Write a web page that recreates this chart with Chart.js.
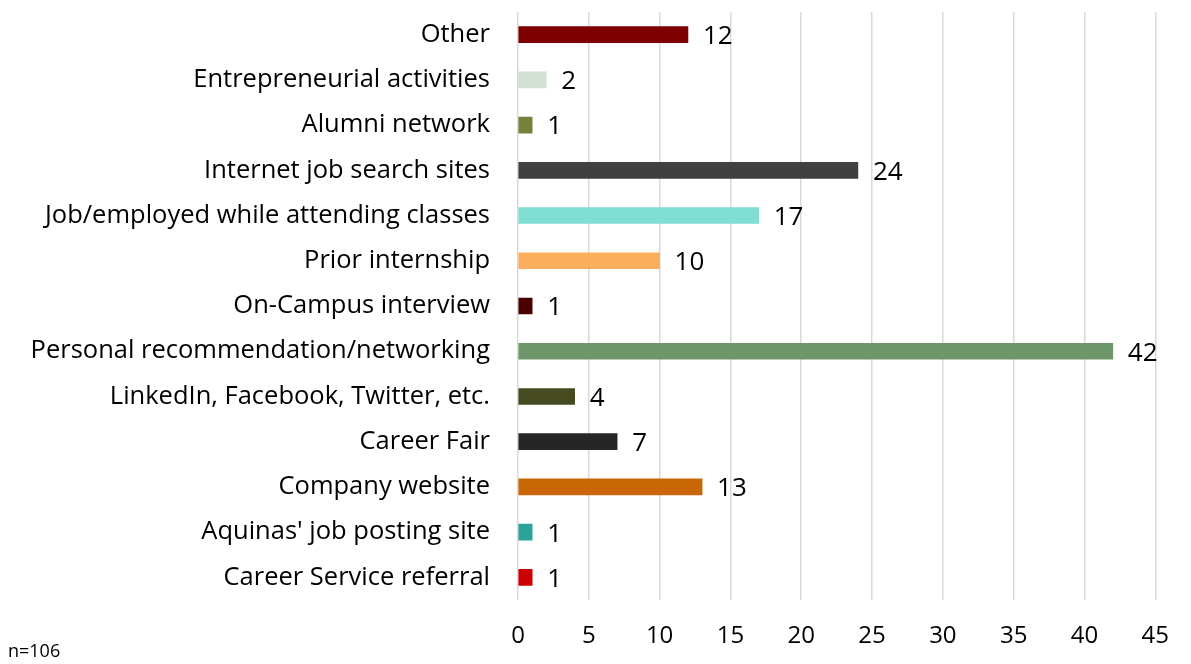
<!DOCTYPE html>
<html>
<head>
<meta charset="utf-8">
<script src="https://cdn.jsdelivr.net/npm/chart.js@4/dist/chart.umd.min.js"></script>
<style>
  body { margin: 0; background: #fff; }
  #wrap { position: relative; width: 1191px; height: 664px; }
  #note { position: absolute; left: 8px; top: 638px; font: 18px "Open Sans", sans-serif; color: #000; }
</style>
</head>
<body>
<div id="wrap">
  <canvas id="c" width="1191" height="664"></canvas>
  <div id="note">n=106</div>
</div>
<script>
// top to bottom, as in the picture
const categories = [
    "Other",
    "Entrepreneurial activities",
    "Alumni network",
    "Internet job search sites",
    "Job/employed while attending classes",
    "Prior internship",
    "On-Campus interview",
    "Personal recommendation/networking",
    "LinkedIn, Facebook, Twitter, etc.",
    "Career Fair",
    "Company website",
    "Aquinas' job posting site",
    "Career Service referral",
];
const counts = [12, 2, 1, 24, 17, 10, 1, 42, 4, 7, 13, 1, 1];
const barColors = [
    "#7f0000", "#d3e0d3", "#76813a", "#404040", "#7fddd4", "#fbaf5d", "#4b0000",
    "#6e966b", "#464a20", "#262626", "#c96706", "#2ca39a", "#cc0000",
];
const xTicks = [0, 5, 10, 15, 20, 25, 30, 35, 40, 45];

const FONT = "'Open Sans', sans-serif";

// value labels at the end of each bar
const valueLabels = {
    id: "valueLabels",
    afterDatasetsDraw(chart) {
        const ctx = chart.ctx;
        const meta = chart.getDatasetMeta(0);
        ctx.save();
        ctx.font = "26px " + FONT;
        ctx.fillStyle = "#000";
        ctx.textAlign = "left";
        ctx.textBaseline = "middle";
        meta.data.forEach((bar, i) => {
            ctx.fillText(String(counts[i]), bar.x + 15, bar.y + 2);
        });
        ctx.restore();
    }
};

new Chart(document.getElementById("c"), {
    type: "bar",
    data: {
        labels: categories,
        datasets: [{
            data: counts,
            backgroundColor: barColors,
            barThickness: 16,
        }],
    },
    options: {
        indexAxis: "y",
        responsive: false,
        animation: false,
        layout: { padding: { top: 12, right: 33, left: 0, bottom: 0 } },
        plugins: { legend: { display: false }, tooltip: { enabled: false } },
        scales: {
            x: {
                min: 0,
                max: 45,
                afterBuildTicks: (s) => { s.ticks = xTicks.map(v => ({ value: v })); },
                grid: { color: "#d9d9d9", lineWidth: 1.5, drawTicks: false },
                border: { display: false },
                ticks: { color: "#000", font: { family: FONT, size: 24 }, padding: 22 },
                afterFit: (s) => { s.height = 64; },
            },
            y: {
                grid: { display: false, drawTicks: false },
                border: { display: false },
                ticks: { color: "#000", font: { family: FONT, size: 25.5 }, padding: 28, autoSkip: false },
                afterFit: (s) => {
                    s.width = 518;
                    // drop the extra room chart.js keeps for the first/last label
                    s.paddingTop = 0;
                    s.paddingBottom = 0;
                },
            },
        },
    },
    plugins: [valueLabels],
});
</script>
</body>
</html>
